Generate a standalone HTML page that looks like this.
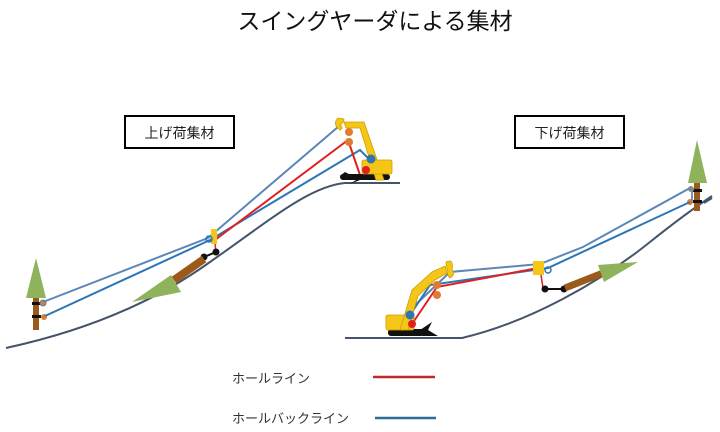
<!DOCTYPE html>
<html><head><meta charset="utf-8"><style>
html,body{margin:0;padding:0;background:#fff;}
svg{display:block;}
text{font-family:"Liberation Sans","Noto Sans CJK JP",sans-serif;}
</style></head><body>
<svg width="720" height="432" viewBox="0 0 720 432" xmlns="http://www.w3.org/2000/svg">
<text x="375" y="29" font-size="23" text-anchor="middle" fill="#111">スイングヤーダによる集材</text>
<rect x="125" y="116" width="109" height="32" fill="#fff" stroke="#000" stroke-width="2"/>
<text x="179.5" y="138" font-size="14" text-anchor="middle" fill="#222">上げ荷集材</text>
<rect x="515" y="116" width="109" height="32" fill="#fff" stroke="#000" stroke-width="2"/>
<text x="569.5" y="138" font-size="14" text-anchor="middle" fill="#222">下げ荷集材</text>

<!-- LEFT SCENE -->
<path d="M6,348 C80,332 150,305 210,262 C270,220 310,186 345,183 L400,183" fill="none" stroke="#44546a" stroke-width="2"/>
<rect x="33" y="298" width="6" height="32" fill="#9c5a1a"/>
<polygon points="36,258 26,298 46,298" fill="#8fb35a"/>
<rect x="32" y="302" width="9" height="3" fill="#111"/>
<rect x="32" y="315" width="9" height="3" fill="#111"/>
<circle cx="43" cy="303" r="3" fill="#e07b30" stroke="#5b7fa8"/>
<circle cx="44" cy="317" r="3" fill="#e07b30"/>
<polyline points="43,302 208,238 338,127" fill="none" stroke="#5b86b8" stroke-width="2"/>
<polyline points="45,316 210,240 360,150 370,160" fill="none" stroke="#2e75b6" stroke-width="2"/>
<polyline points="215,240 348,140 360,175" fill="none" stroke="#e02020" stroke-width="2"/>
<rect x="211" y="229" width="6" height="15" fill="#f5c518"/>
<circle cx="209" cy="239" r="3" fill="none" stroke="#2e75b6" stroke-width="1.5"/>
<line x1="215" y1="244" x2="216" y2="252" stroke="#e02020" stroke-width="1.5"/>
<line x1="204" y1="257" x2="216" y2="252" stroke="#111" stroke-width="2"/>
<circle cx="204" cy="257" r="3.5" fill="#111"/>
<circle cx="216" cy="252" r="3.5" fill="#111"/>
<line x1="204" y1="259" x2="174" y2="280" stroke="#9c5a1a" stroke-width="8"/>
<polygon points="132,302 171,275 181,292" fill="#8fb35a"/>
<rect x="340" y="174" width="50" height="6" rx="3" fill="#111"/>
<path d="M345,172 L340,176 L356,180 L350,184 L360,180 Z" fill="#111"/>
<polygon points="344,122 364,122 384,180 376,180 360,128 346,128" fill="#f5c518" stroke="#caa000" stroke-width="0.8"/>
<rect x="362" y="160" width="30" height="14" rx="2" fill="#f5c518" stroke="#caa000" stroke-width="0.8"/>
<path d="M338,118 q-6,6 2,12 q4,-2 0,-5 q4,-2 4,-6 z" fill="#f5c518" stroke="#caa000" stroke-width="0.8"/>
<circle cx="349" cy="132" r="4" fill="#e07b30"/>
<circle cx="349" cy="142" r="4" fill="#e07b30"/>
<circle cx="371" cy="159" r="4.5" fill="#2e75b6"/>
<circle cx="366" cy="170" r="4" fill="#e02020"/>

<!-- RIGHT SCENE -->
<path d="M345,338 L462,338 C530,322 600,282 650,242 C680,218 700,204 712,196" fill="none" stroke="#44546a" stroke-width="2"/>
<rect x="694" y="183" width="6" height="28" fill="#9c5a1a"/>
<polygon points="697,140 688,183 707,183" fill="#8fb35a"/>
<rect x="693" y="189" width="9" height="3" fill="#111"/>
<rect x="693" y="200" width="9" height="3" fill="#111"/>
<line x1="692" y1="190" x2="692" y2="202" stroke="#2e75b6" stroke-width="1.5"/>
<circle cx="691" cy="189" r="3" fill="#888"/>
<circle cx="690" cy="202" r="3" fill="#e07b30"/>
<line x1="704" y1="203" x2="712" y2="198" stroke="#44546a" stroke-width="2"/>
<polyline points="690,188 583,247 540,264 450,272 410,310" fill="none" stroke="#5b86b8" stroke-width="2"/>
<polyline points="690,202 548,268 430,285 410,315" fill="none" stroke="#2e75b6" stroke-width="2"/>
<polyline points="538,268 437,287 412,324" fill="none" stroke="#e02020" stroke-width="2"/>
<rect x="533" y="261" width="11" height="14" fill="#f5c518"/>
<circle cx="548" cy="270" r="3" fill="none" stroke="#2e75b6" stroke-width="1.5"/>
<line x1="541" y1="275" x2="543" y2="288" stroke="#e02020" stroke-width="1.5"/>
<line x1="545" y1="289" x2="564" y2="289" stroke="#111" stroke-width="2"/>
<circle cx="545" cy="289" r="3.5" fill="#111"/>
<circle cx="564" cy="289" r="3.5" fill="#111"/>
<line x1="565" y1="288" x2="603" y2="273" stroke="#9c5a1a" stroke-width="7"/>
<polygon points="638,262 598,265 604,282" fill="#8fb35a"/>
<rect x="388" y="329" width="36" height="7" rx="3" fill="#111"/>
<path d="M420,330 L432,322 L428,330 L438,336 L422,336 Z" fill="#111"/>
<rect x="386" y="315" width="28" height="15" rx="2" fill="#f5c518" stroke="#caa000" stroke-width="0.8"/>
<polygon points="400,330 412,290 432,272 445,266 447,273 435,280 418,296 408,330" fill="#f5c518" stroke="#caa000" stroke-width="0.8"/>
<path d="M446,262 q8,-4 6,8 q4,4 -2,8 q-4,-4 -2,-6 q-2,-6 -2,-10 z" fill="#f5c518" stroke="#caa000" stroke-width="0.8"/>
<circle cx="437" cy="285" r="4" fill="#e07b30"/>
<circle cx="437" cy="295" r="4" fill="#e07b30"/>
<circle cx="410" cy="315" r="4.5" fill="#2e75b6"/>
<circle cx="412" cy="324" r="4" fill="#e02020"/>

<text x="232" y="383" font-size="13" fill="#333">ホールライン</text>
<line x1="373" y1="377" x2="435" y2="377" stroke="#c0282c" stroke-width="2.5"/>
<text x="232" y="423" font-size="13" fill="#333">ホールバックライン</text>
<line x1="375" y1="418" x2="436" y2="418" stroke="#2e6b96" stroke-width="2.5"/>
</svg>
</body></html>
